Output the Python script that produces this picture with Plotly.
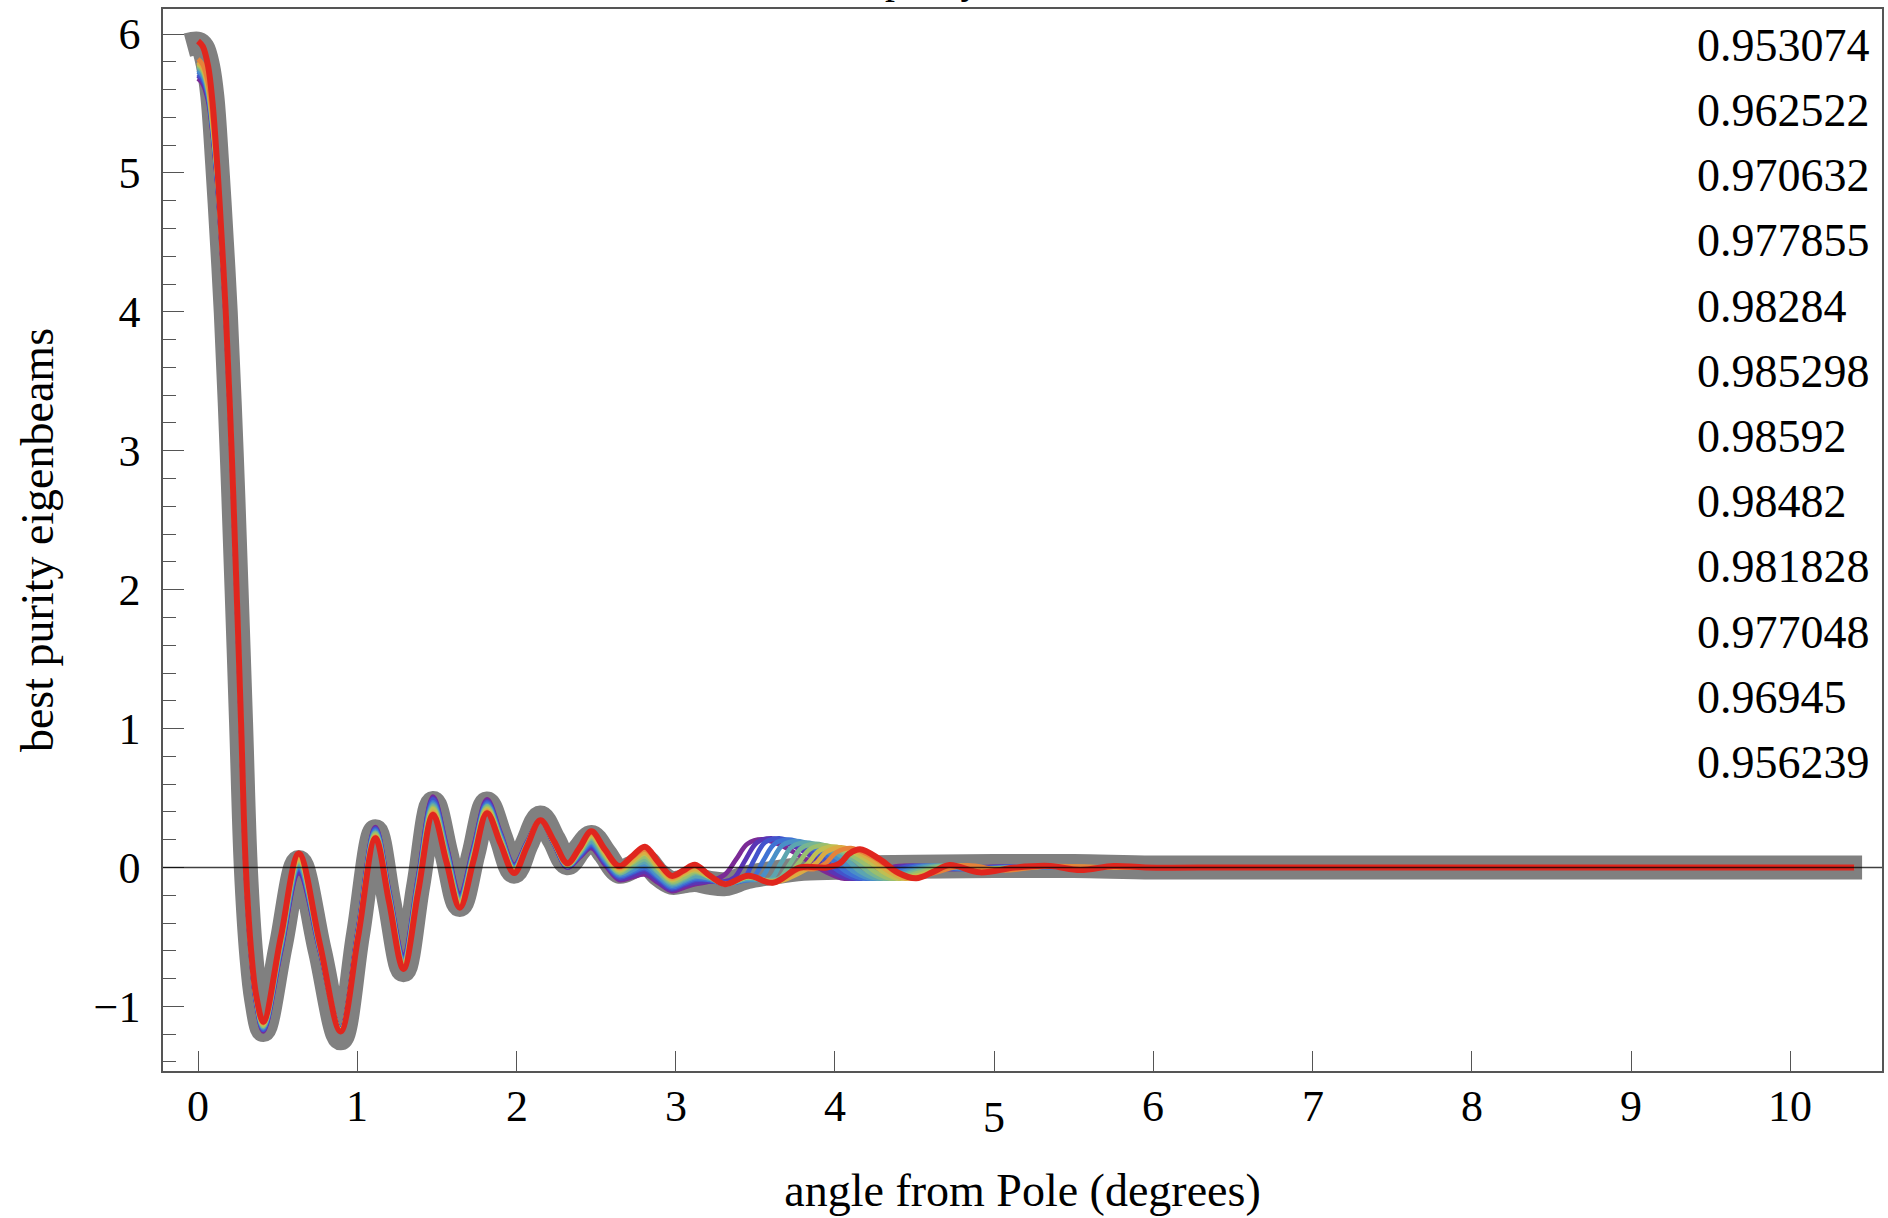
import plotly.graph_objects as go

# ---------------- data ----------------
x_main = [0.0, 0.03, 0.063, 0.09, 0.121, 0.15, 0.174, 0.211, 0.242, 0.27, 0.30, 0.335, 0.365, 0.41,
          0.52, 0.633, 0.765, 0.895, 1.005, 1.114, 1.2, 1.29, 1.383, 1.476, 1.56, 1.644, 1.73, 1.815,
          1.9, 1.985, 2.065, 2.15, 2.235, 2.32, 2.395, 2.47, 2.555, 2.645, 2.725, 2.806, 2.89, 2.975,
          3.05, 3.12]

y_main_c01 = [5.68, 5.64, 5.52, 5.30, 4.92, 4.44, 3.97, 2.98, 1.98, 1.03, -0.02, -0.66, -0.97, -1.18, -0.61, -0.04, -0.60, -1.16, -0.44, 0.29, -0.17, -0.63, -0.06, 0.51, 0.16, -0.19, 0.15, 0.49, 0.25, 0.02, 0.18, 0.34, 0.17, 0.00, 0.07, 0.14, 0.02, -0.09, -0.07, -0.05, -0.11, -0.17, -0.145, -0.12]
y_main_c02 = [5.70, 5.66, 5.54, 5.31, 4.93, 4.45, 3.97, 2.98, 1.98, 1.03, -0.02, -0.66, -0.97, -1.17, -0.60, -0.03, -0.60, -1.16, -0.45, 0.28, -0.18, -0.64, -0.07, 0.50, 0.15, -0.20, 0.14, 0.48, 0.24, 0.01, 0.18, 0.34, 0.17, 0.00, 0.08, 0.15, 0.03, -0.08, -0.06, -0.03, -0.10, -0.16, -0.13, -0.11]
y_main_c03 = [5.71, 5.67, 5.55, 5.32, 4.94, 4.45, 3.98, 2.98, 1.98, 1.03, -0.02, -0.65, -0.96, -1.17, -0.59, -0.01, -0.59, -1.16, -0.45, 0.28, -0.18, -0.65, -0.08, 0.49, 0.14, -0.21, 0.13, 0.47, 0.24, 0.01, 0.17, 0.34, 0.17, 0.01, 0.08, 0.16, 0.04, -0.07, -0.04, -0.01, -0.08, -0.15, -0.12, -0.09]
y_main_c04 = [5.73, 5.69, 5.56, 5.33, 4.95, 4.46, 3.98, 2.99, 1.99, 1.04, -0.01, -0.65, -0.96, -1.16, -0.58, 0.00, -0.59, -1.17, -0.46, 0.27, -0.19, -0.66, -0.09, 0.47, 0.13, -0.22, 0.12, 0.46, 0.23, 0.00, 0.17, 0.34, 0.18, 0.01, 0.09, 0.17, 0.05, -0.06, -0.03, 0.00, -0.07, -0.14, -0.11, -0.08]
y_main_c05 = [5.74, 5.70, 5.58, 5.34, 4.96, 4.46, 3.98, 2.99, 1.99, 1.04, -0.01, -0.65, -0.95, -1.15, -0.57, 0.01, -0.58, -1.17, -0.46, 0.26, -0.20, -0.67, -0.10, 0.46, 0.12, -0.23, 0.11, 0.45, 0.22, 0.00, 0.17, 0.34, 0.18, 0.01, 0.10, 0.18, 0.06, -0.05, -0.02, 0.02, -0.06, -0.13, -0.10, -0.07]
y_main_c06 = [5.76, 5.72, 5.59, 5.35, 4.96, 4.47, 3.99, 2.99, 1.99, 1.04, -0.01, -0.64, -0.95, -1.15, -0.56, 0.02, -0.58, -1.17, -0.47, 0.25, -0.21, -0.68, -0.11, 0.45, 0.11, -0.24, 0.10, 0.44, 0.21, -0.01, 0.17, 0.34, 0.18, 0.01, 0.10, 0.19, 0.07, -0.04, 0.00, 0.04, -0.04, -0.12, -0.09, -0.06]
y_main_c07 = [5.77, 5.73, 5.60, 5.36, 4.97, 4.47, 3.99, 2.99, 1.99, 1.04, -0.01, -0.64, -0.94, -1.14, -0.55, 0.04, -0.57, -1.17, -0.47, 0.25, -0.21, -0.68, -0.12, 0.44, 0.09, -0.24, 0.10, 0.44, 0.21, -0.01, 0.16, 0.34, 0.18, 0.02, 0.11, 0.21, 0.08, -0.04, 0.01, 0.06, -0.03, -0.11, -0.08, -0.04]
y_main_c08 = [5.78, 5.74, 5.61, 5.37, 4.98, 4.48, 3.99, 3.00, 2.00, 1.05, 0.00, -0.63, -0.94, -1.14, -0.54, 0.05, -0.57, -1.17, -0.48, 0.24, -0.22, -0.69, -0.13, 0.43, 0.08, -0.25, 0.09, 0.43, 0.20, -0.02, 0.16, 0.34, 0.18, 0.02, 0.11, 0.22, 0.09, -0.03, 0.03, 0.08, -0.01, -0.10, -0.07, -0.03]
y_main_c09 = [5.79, 5.75, 5.62, 5.38, 4.99, 4.48, 4.00, 3.00, 2.00, 1.05, 0.00, -0.63, -0.93, -1.13, -0.53, 0.06, -0.56, -1.17, -0.48, 0.23, -0.23, -0.70, -0.14, 0.42, 0.07, -0.26, 0.08, 0.42, 0.19, -0.02, 0.16, 0.34, 0.18, 0.02, 0.12, 0.23, 0.10, -0.02, 0.04, 0.10, 0.00, -0.09, -0.05, -0.02]
y_main_c10 = [5.80, 5.76, 5.63, 5.39, 5.00, 4.49, 4.00, 3.00, 2.00, 1.05, 0.00, -0.63, -0.93, -1.12, -0.52, 0.07, -0.56, -1.18, -0.49, 0.22, -0.24, -0.71, -0.15, 0.40, 0.06, -0.27, 0.07, 0.41, 0.18, -0.03, 0.16, 0.34, 0.19, 0.02, 0.13, 0.24, 0.11, -0.01, 0.05, 0.11, 0.01, -0.08, -0.04, -0.01]
y_main_c11 = [5.82, 5.78, 5.65, 5.41, 5.01, 4.49, 4.00, 3.00, 2.00, 1.05, 0.00, -0.62, -0.92, -1.12, -0.51, 0.09, -0.55, -1.18, -0.49, 0.22, -0.24, -0.72, -0.16, 0.39, 0.05, -0.28, 0.06, 0.40, 0.18, -0.03, 0.15, 0.34, 0.19, 0.03, 0.13, 0.25, 0.12, 0.00, 0.07, 0.13, 0.03, -0.07, -0.03, 0.01]
y_main_c12 = [5.95, 5.91, 5.77, 5.52, 5.05, 4.50, 4.00, 3.00, 2.00, 1.05, 0.00, -0.62, -0.92, -1.11, -0.50, 0.10, -0.55, -1.18, -0.50, 0.21, -0.25, -0.73, -0.17, 0.38, 0.04, -0.29, 0.05, 0.39, 0.17, -0.04, 0.15, 0.34, 0.19, 0.03, 0.14, 0.26, 0.13, 0.01, 0.08, 0.15, 0.04, -0.06, -0.02, 0.02]

bump_x_c01 = [3.215, 3.31, 3.38, 3.45, 3.54, 3.66, 3.80, 3.94, 4.06, 4.20, 4.40, 4.70, 5.00, 5.40, 5.95]
bump_y_c01 = [-0.10, -0.05, 0.06, 0.17, 0.203, 0.16, 0.07, -0.03, -0.08, -0.05, 0.01, -0.01, 0.005, 0.0, 0.0]
bump_x_c02 = [3.215, 3.31, 3.37, 3.44, 3.51, 3.60, 3.72, 3.86, 3.98, 4.10, 4.24, 4.44, 4.74, 5.04, 5.42, 5.95]
bump_y_c02 = [-0.10, -0.10, -0.07, 0.06, 0.18, 0.21, 0.165, 0.075, -0.03, -0.08, -0.05, 0.01, -0.01, 0.005, 0.0, 0.0]
bump_x_c03 = [3.215, 3.31, 3.42, 3.49, 3.56, 3.65, 3.77, 3.91, 4.03, 4.14, 4.28, 4.48, 4.78, 5.08, 5.45, 5.95]
bump_y_c03 = [-0.09, -0.11, -0.09, 0.05, 0.18, 0.21, 0.165, 0.075, -0.03, -0.08, -0.05, 0.01, -0.01, 0.005, 0.0, 0.0]
bump_x_c04 = [3.215, 3.31, 3.39, 3.48, 3.55, 3.62, 3.71, 3.83, 3.97, 4.07, 4.19, 4.33, 4.53, 4.83, 5.13, 5.50, 5.95]
bump_y_c04 = [-0.09, -0.12, -0.10, -0.08, 0.05, 0.17, 0.20, 0.155, 0.07, -0.03, -0.08, -0.05, 0.01, -0.01, 0.005, 0.0, 0.0]
bump_x_c05 = [3.215, 3.31, 3.42, 3.53, 3.60, 3.67, 3.76, 3.88, 4.02, 4.12, 4.23, 4.37, 4.57, 4.87, 5.17, 5.55, 5.95]
bump_y_c05 = [-0.08, -0.12, -0.09, -0.08, 0.04, 0.16, 0.19, 0.15, 0.065, -0.03, -0.08, -0.05, 0.01, -0.01, 0.005, 0.0, 0.0]
bump_x_c06 = [3.215, 3.31, 3.455, 3.59, 3.66, 3.73, 3.82, 3.94, 4.07, 4.16, 4.27, 4.41, 4.61, 4.90, 5.20, 5.60, 5.95]
bump_y_c06 = [-0.08, -0.12, -0.08, -0.09, 0.03, 0.15, 0.18, 0.14, 0.06, -0.03, -0.08, -0.05, 0.01, -0.01, 0.005, 0.0, 0.0]
bump_x_c07 = [3.215, 3.31, 3.455, 3.56, 3.65, 3.72, 3.79, 3.88, 4.00, 4.12, 4.21, 4.31, 4.45, 4.65, 4.93, 5.23, 5.62, 5.95]
bump_y_c07 = [-0.07, -0.12, -0.07, -0.09, -0.08, 0.03, 0.14, 0.17, 0.13, 0.055, -0.03, -0.08, -0.05, 0.01, -0.01, 0.005, 0.0, 0.0]
bump_x_c08 = [3.215, 3.31, 3.455, 3.61, 3.70, 3.77, 3.84, 3.93, 4.05, 4.16, 4.25, 4.35, 4.49, 4.69, 4.96, 5.26, 5.65, 5.95]
bump_y_c08 = [-0.07, -0.12, -0.07, -0.10, -0.06, 0.03, 0.13, 0.16, 0.12, 0.05, -0.03, -0.08, -0.05, 0.01, -0.01, 0.005, 0.0, 0.0]
bump_x_c09 = [3.215, 3.31, 3.455, 3.61, 3.76, 3.83, 3.90, 3.99, 4.11, 4.21, 4.30, 4.40, 4.54, 4.73, 5.00, 5.30, 5.68, 5.95]
bump_y_c09 = [-0.07, -0.12, -0.07, -0.10, -0.04, 0.03, 0.12, 0.15, 0.11, 0.045, -0.03, -0.08, -0.05, 0.01, -0.01, 0.005, 0.0, 0.0]
bump_x_c10 = [3.215, 3.31, 3.455, 3.61, 3.81, 3.88, 3.95, 4.04, 4.16, 4.25, 4.34, 4.44, 4.58, 4.77, 5.03, 5.32, 5.70, 5.95]
bump_y_c10 = [-0.06, -0.12, -0.06, -0.11, -0.02, 0.03, 0.115, 0.145, 0.10, 0.04, -0.03, -0.08, -0.05, 0.012, -0.015, 0.008, 0.0, 0.0]
bump_x_c11 = [3.215, 3.31, 3.455, 3.61, 3.78, 3.87, 3.94, 4.01, 4.10, 4.22, 4.30, 4.38, 4.48, 4.62, 4.82, 5.06, 5.34, 5.72, 5.95]
bump_y_c11 = [-0.06, -0.12, -0.06, -0.11, -0.01, -0.01, 0.03, 0.11, 0.14, 0.085, 0.03, -0.035, -0.08, -0.04, 0.015, -0.02, 0.01, 0.0, 0.0]
bump_x_c12 = [3.215, 3.31, 3.455, 3.61, 3.78, 3.95, 4.03, 4.09, 4.157, 4.28, 4.40, 4.51, 4.62, 4.72, 4.91, 5.13, 5.35, 5.54, 5.75, 5.95]
bump_y_c12 = [-0.06, -0.12, -0.06, -0.11, 0.0, 0.0, 0.03, 0.10, 0.131, 0.06, -0.04, -0.078, -0.03, 0.018, -0.035, 0.0, 0.011, -0.018, 0.011, 0.0]

x_tail = [6.5, 7.5, 8.5, 9.5, 10.40]
y_tail = [0.0, 0.0, 0.0, 0.0, 0.0]

gray_x_head = [-0.07]
gray_y_head = [5.92]
gray_y_main = [5.93, 5.90, 5.77, 5.55, 5.05, 4.50, 4.00, 3.00, 2.00, 1.05, 0.00, -0.64, -0.95, -1.17, -0.56, 0.04, -0.60, -1.23, -0.48, 0.26, -0.24, -0.74, -0.13, 0.465, 0.10, -0.27, 0.10, 0.46, 0.22, -0.03, 0.17, 0.36, 0.20, 0.03, 0.13, 0.22, 0.10, -0.03, 0.00, 0.05, -0.05, -0.11, -0.10, -0.09]
gray_x_rest = [3.215, 3.31, 3.45, 3.6, 3.8, 4.1, 4.5, 5.0, 5.5, 6.0, 7.0, 8.0, 9.0, 10.0, 10.45]
gray_y_rest = [-0.11, -0.12, -0.07, -0.04, -0.01, 0.0, 0.005, 0.01, 0.01, 0.0, 0.0, 0.0, 0.0, 0.0, 0.0]

purity_labels = ["0.953074", "0.962522", "0.970632", "0.977855", "0.98284", "0.985298",
                 "0.98592", "0.98482", "0.981828", "0.977048", "0.96945", "0.956239"]

x_ticks = [0, 1, 2, 3, 4, 5, 6, 7, 8, 9, 10]
y_ticks = [-1, 0, 1, 2, 3, 4, 5, 6]

# ---------------- styling ----------------
curve_colors = ["#7b2a96", "#5a35b5", "#4353cc", "#3f72d4", "#4a8fc8", "#5ca5b0",
                "#77b592", "#9abf6e", "#c0bf52", "#dbab43", "#e6823a", "#e0261e"]
FONT = "Liberation Serif"

main_ys = [y_main_c01, y_main_c02, y_main_c03, y_main_c04, y_main_c05, y_main_c06,
           y_main_c07, y_main_c08, y_main_c09, y_main_c10, y_main_c11, y_main_c12]
bump_xs = [bump_x_c01, bump_x_c02, bump_x_c03, bump_x_c04, bump_x_c05, bump_x_c06,
           bump_x_c07, bump_x_c08, bump_x_c09, bump_x_c10, bump_x_c11, bump_x_c12]
bump_ys = [bump_y_c01, bump_y_c02, bump_y_c03, bump_y_c04, bump_y_c05, bump_y_c06,
           bump_y_c07, bump_y_c08, bump_y_c09, bump_y_c10, bump_y_c11, bump_y_c12]

for ym in main_ys + [gray_y_main]:
    if len(ym) != len(x_main):
        raise ValueError("main length mismatch %d" % len(ym))
for bx, by in zip(bump_xs, bump_ys):
    if len(bx) != len(by):
        raise ValueError("bump length mismatch")

fig = go.Figure()

fig.add_trace(go.Scatter(
    x=gray_x_head + x_main + gray_x_rest,
    y=gray_y_head + gray_y_main + gray_y_rest,
    mode="lines", line=dict(color="#808080", width=24, shape="spline", smoothing=1.0),
    showlegend=False, hoverinfo="skip"))

for i in range(12):
    fig.add_trace(go.Scatter(
        x=x_main + bump_xs[i] + x_tail,
        y=main_ys[i] + bump_ys[i] + y_tail,
        mode="lines",
        line=dict(color=curve_colors[i], width=6 if i == 11 else 4.7, shape="spline", smoothing=1.0),
        name=purity_labels[i], showlegend=False))

# zero axis line drawn over the curves
fig.add_shape(type="line", xref="paper", x0=0, x1=1, yref="y", y0=0, y1=0,
              line=dict(color="rgba(0,0,0,0.75)", width=1.5), layer="above")

# purity labels on the right
for k, lab in enumerate(purity_labels):
    fig.add_annotation(x=9.40, y=5.92 - 0.4695 * k, xref="x", yref="y", text=lab,
                       showarrow=False, xanchor="left", yanchor="middle",
                       font=dict(family=FONT, size=46, color="black"))

# x tick labels (the "5" sits a little lower in the original)
for t in x_ticks:
    fig.add_annotation(x=t, y=0, xref="x", yref="paper", text=str(t), showarrow=False,
                       xanchor="center", yanchor="top", yshift=(-20 if t == 5 else -9),
                       font=dict(family=FONT, size=44, color="black"))

# plot label, clipped by the top edge as in the original
fig.add_annotation(x=0.4189, y=1.0048, xref="paper", yref="paper", text="purity",
                   showarrow=False, xanchor="left", yanchor="bottom",
                   font=dict(family=FONT, size=40, color="black"))

fig.update_layout(
    width=1888, height=1218,
    margin=dict(l=163, r=6, t=9, b=147),
    paper_bgcolor="white", plot_bgcolor="white",
    showlegend=False,
    font=dict(family=FONT, color="black"),
    xaxis=dict(range=[-0.22, 10.575], showgrid=False, zeroline=False,
               showline=True, mirror=True, linecolor="#555", linewidth=1.5,
               ticks="inside", ticklen=20, tickwidth=1.3, tickcolor="#555",
               tickvals=x_ticks, showticklabels=False, automargin=False,
               title=dict(text="angle from Pole (degrees)", standoff=102,
                          font=dict(family=FONT, size=46, color="black"))),
    yaxis=dict(range=[-1.465, 6.18], showgrid=False, zeroline=False,
               showline=True, mirror=True, linecolor="#555", linewidth=1.5,
               ticks="inside", ticklen=21, tickwidth=1.3, tickcolor="#555",
               tickvals=y_ticks, ticklabelstandoff=12, automargin=False,
               tickfont=dict(family=FONT, size=44, color="black"),
               minor=dict(dtick=0.2, tick0=0, ticks="inside", ticklen=13,
                          tickwidth=1.1, tickcolor="#555", showgrid=False),
               title=dict(text="best purity eigenbeams", standoff=26,
                          font=dict(family=FONT, size=46, color="black"))),
)

fig.write_html("out.html", config={"displayModeBar": False},
               post_script="document.body.style.margin='0';document.body.style.padding='0';")
